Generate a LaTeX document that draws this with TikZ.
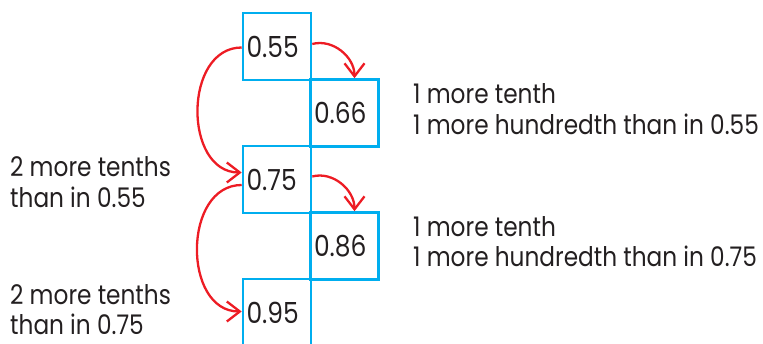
\documentclass[tikz,border=0pt]{standalone}
\usepackage{fontspec}
\setmainfont{Poppins}[FakeStretch=0.86]
\usetikzlibrary{arrows.meta}
\definecolor{boxblue}{RGB}{0,174,239}
\definecolor{arrowred}{RGB}{237,28,36}
\definecolor{inkgray}{RGB}{35,31,32}
\begin{document}
\begin{tikzpicture}[x=1pt,y=-1pt,
  every node/.style={font=\fontsize{27}{31}\selectfont, text=inkgray},
  numbox/.style={draw=boxblue, line width=2.6pt, minimum width=68pt, minimum height=67pt,
    text width=61pt, align=left, inner sep=0pt, font=\fontsize{29}{33}\selectfont},
  label/.style={anchor=base west, inner sep=0pt},
  jump/.style={draw=arrowred, line width=2.3pt, -{Straight Barb[length=13pt,width=20pt,line width=2.3pt]}}]
  \useasboundingbox (0,0) rectangle (763,344);
  \clip (0,0) rectangle (763,344);
  % staircase of numbers
  \node[numbox] (b1) at (277,46.5) {0.55};
  \node[numbox] (b2) at (344.5,113) {0.66};
  \node[numbox] (b3) at (277,179.5) {0.75};
  \node[numbox] (b4) at (344.5,246) {0.86};
  \node[numbox] (b5) at (277,312.5) {0.95};
  % explanations
  \node[label] (r1) at (413,104) {1 more tenth};
  \node[label] (r2) at (413,135) {1 more hundredth than in 0.55};
  \node[label] (r3) at (413,237) {1 more tenth};
  \node[label] (r4) at (413,267) {1 more hundredth than in 0.75};
  \node[label] (l1) at (10,177) {2 more tenths};
  \node[label] (l2) at (10,208) {than in 0.55};
  \node[label] (l3) at (10,305) {2 more tenths};
  \node[label] (l4) at (10,335) {than in 0.75};
  % arrows
  \draw[jump] ([yshift=2.5pt]b1.east) to[out=15, in=90] ([xshift=10pt]b2.north);
  \draw[jump] ([yshift=3pt]b3.east) to[out=15, in=90] ([xshift=10pt]b4.north);
  \draw[jump] ([yshift=-1pt]b1.west) to[out=180, in=180, looseness=1.2] ([yshift=7pt]b3.west);
  \draw[jump] ([yshift=-5.5pt]b3.west) to[out=180, in=180, looseness=1.2] ([yshift=1pt]b5.west);
\end{tikzpicture}
\end{document}
